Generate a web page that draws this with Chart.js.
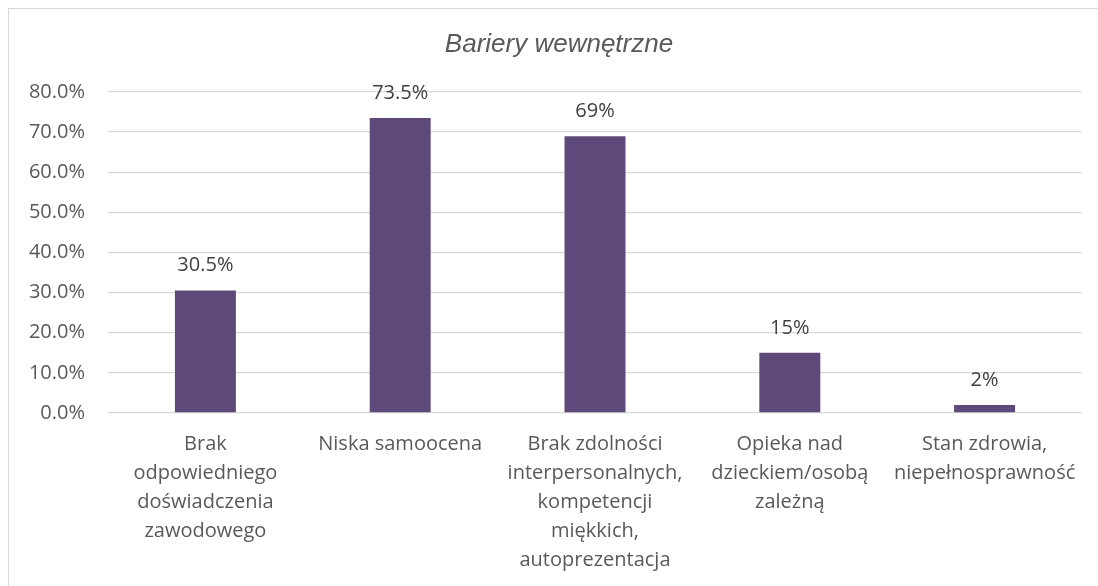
<!DOCTYPE html>
<html>
<head>
<meta charset="utf-8">
<script src="https://cdn.jsdelivr.net/npm/chart.js@4/dist/chart.umd.min.js"></script>
<style>
  html, body { margin: 0; padding: 0; background: #fff; }
  #wrap { position: relative; width: 1098px; height: 586px; overflow: hidden; }
  #frame { position: absolute; left: 8px; top: 8px; width: 1200px; height: 700px; border: 1px solid #d9d9d9; }
  #myChart { position: absolute; left: 0; top: 0; }
</style>
</head>
<body>
<div id="wrap">
  <div id="frame"></div>
  <canvas id="myChart" width="1098" height="586"></canvas>
</div>
<script>
// chart data
const chartTitle = "Bariery wewnętrzne";
const categories = [
    ["Brak", "odpowiedniego", "doświadczenia", "zawodowego"],
    ["Niska samoocena"],
    ["Brak zdolności", "interpersonalnych,", "kompetencji", "miękkich,", "autoprezentacja"],
    ["Opieka nad", "dzieckiem/osobą", "zależną"],
    ["Stan zdrowia,", "niepełnosprawność"]
];
const values = [30.5, 73.5, 69, 15, 2]; // percent
const yTicksMax = 80;
const yTicksStep = 10;

const ctx = document.getElementById('myChart');
const fontFamily = "'Open Sans', sans-serif";

// title, centred on the frame rather than on the canvas
const frameTitle = {
    id: 'frameTitle',
    afterDraw(chart) {
        const c = chart.ctx;
        c.save();
        c.font = "italic 26px 'Liberation Sans', Arial, sans-serif";
        c.fillStyle = '#595959';
        c.textAlign = 'center';
        c.textBaseline = 'middle';
        c.fillText(chartTitle, 559, 45);
        c.restore();
    }
};

// draws the value label above each bar
const valueLabels = {
    id: 'valueLabels',
    afterDatasetsDraw(chart) {
        const c = chart.ctx;
        const meta = chart.getDatasetMeta(0);
        c.save();
        c.font = "20px " + fontFamily;
        c.fillStyle = '#404040';
        c.textAlign = 'center';
        c.textBaseline = 'middle';
        meta.data.forEach((bar, i) => {
            c.fillText(String(values[i]) + '%', bar.x, bar.y - 25);
        });
        c.restore();
    }
};

new Chart(ctx, {
    type: 'bar',
    data: {
        labels: categories,
        datasets: [{
            data: values,
            backgroundColor: '#5e4a7a',
            barPercentage: 0.313,
            categoryPercentage: 1
        }]
    },
    options: {
        responsive: false,
        animation: false,
        layout: { padding: { left: 0, right: 16, top: 92, bottom: 0 } },
        plugins: {
            legend: { display: false },
            tooltip: { enabled: false },
            title: { display: false }
        },
        scales: {
            x: {
                grid: { display: false, drawTicks: false },
                border: { display: false },
                ticks: {
                    color: '#595959',
                    maxRotation: 0,
                    autoSkip: false,
                    padding: 17,
                    font: { family: fontFamily, size: 20, lineHeight: 1.45 }
                },
                afterFit(scale) { scale.height = 173; }
            },
            y: {
                min: 0,
                max: yTicksMax,
                grid: { color: '#d9d9d9', lineWidth: 1.3, drawTicks: false },
                border: { display: false },
                ticks: {
                    stepSize: yTicksStep,
                    color: '#595959',
                    padding: 23,
                    font: { family: fontFamily, size: 20 },
                    callback: (v) => v.toFixed(1) + '%'
                },
                afterFit(scale) { scale.width = 108; }
            }
        }
    },
    plugins: [valueLabels, frameTitle]
});
</script>
</body>
</html>
